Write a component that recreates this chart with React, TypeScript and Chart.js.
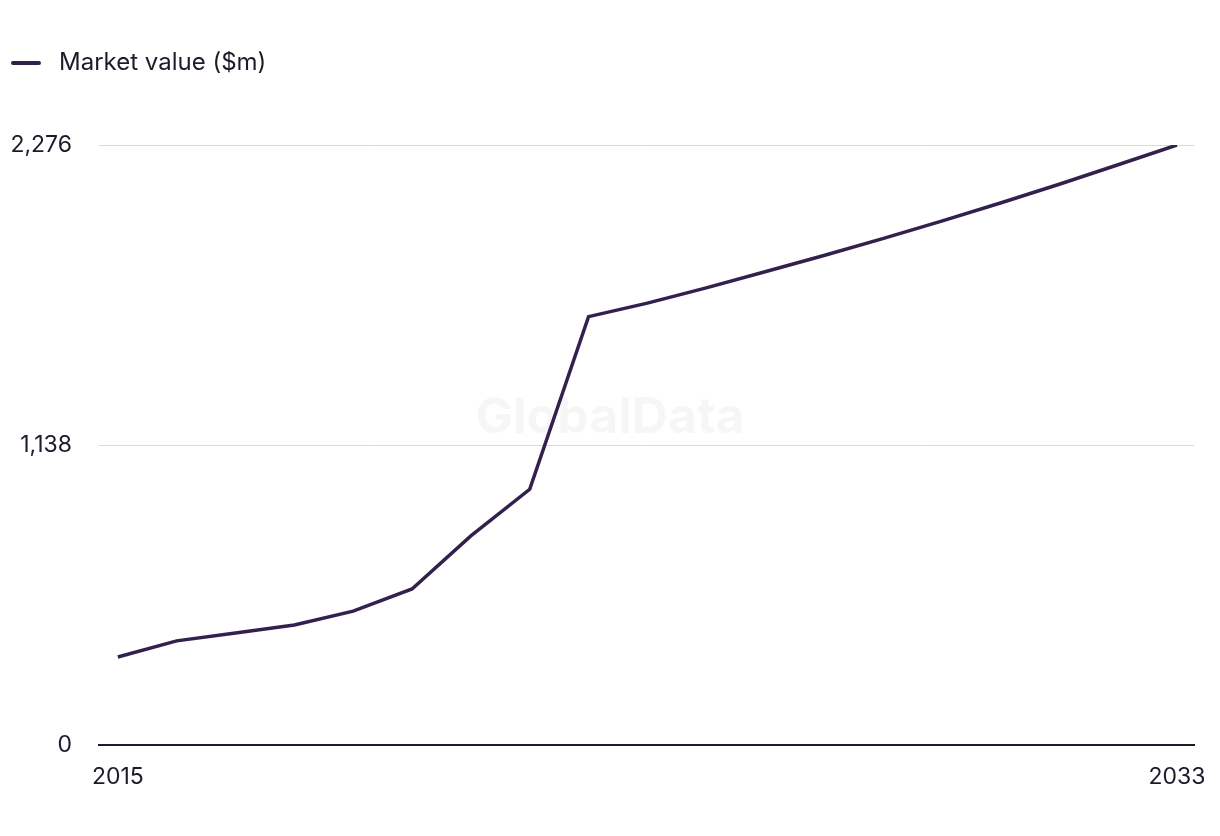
import React, { useEffect, useRef } from "react";
import { Chart, registerables } from "chart.js";

Chart.register(...registerables);

const years = [2015, 2016, 2017, 2018, 2019, 2020, 2021, 2022, 2023, 2024, 2025, 2026, 2027, 2028, 2029, 2030, 2031, 2032, 2033];
const marketValue = [334, 395, 425, 455, 508, 592, 793, 970, 1625, 1676, 1734, 1795, 1857, 1921, 1987, 2056, 2127, 2201, 2276];
const yTicks = [0, 1138, 2276];
const xTicks = [2015, 2033];
const seriesLabel = "Market value ($m)";

const FONT = "Inter, 'Noto Sans', sans-serif";
const TEXT = "#1b1b2b";
const LINE = "#33214d";
const W = 1204;
const H = 820;

export default function App() {
  const ref = useRef<HTMLCanvasElement | null>(null);
  useEffect(() => {
    if (!ref.current) return;
    const swatch = document.createElement("canvas");
    swatch.width = 36;
    swatch.height = 8;
    const sctx = swatch.getContext("2d")!;
    sctx.strokeStyle = LINE;
    sctx.lineWidth = 4;
    sctx.lineCap = "round";
    sctx.beginPath();
    sctx.moveTo(2, 4);
    sctx.lineTo(28, 4);
    sctx.stroke();

    const watermark = {
      id: "watermark",
      beforeDatasetsDraw(chart: any) {
        const ctx = chart.ctx;
        ctx.save();
        ctx.font = `bold 50px ${FONT}`;
        ctx.fillStyle = "rgba(0,0,0,0.035)";
        ctx.textAlign = "center";
        ctx.textBaseline = "middle";
        ctx.fillText("GlobalData", chart.width / 2, 410);
        ctx.restore();
      },
    };
    const legendSpace = {
      id: "legendSpace",
      beforeInit(chart: any) {
        const orig = chart.legend.fit;
        chart.legend.fit = function () {
          orig.call(this);
          this.height = 94;
        };
      },
    };
    const chart = new Chart(ref.current, {
      type: "line",
      data: {
        datasets: [
          {
            label: seriesLabel,
            data: years.map((y, i) => ({ x: y, y: marketValue[i] })),
            borderColor: LINE,
            backgroundColor: LINE,
            borderWidth: 3.5,
            pointRadius: 0,
            tension: 0,
          },
        ],
      },
      plugins: [watermark, legendSpace],
      options: {
        animation: false,
        responsive: false,
        layout: { padding: { top: 43, left: 3, right: 18, bottom: 37 } },
        plugins: {
          tooltip: { enabled: false },
          legend: {
            display: true,
            position: "top",
            align: "start",
            labels: {
              usePointStyle: true,
              pointStyle: swatch as any,
              pointStyleWidth: 36,
              boxWidth: 36,
              boxHeight: 8,
              padding: 0,
              color: TEXT,
              font: { family: FONT, size: 24 },
            },
          },
        },
        scales: {
          x: {
            type: "linear",
            min: 2014.68,
            max: 2033.29,
            afterBuildTicks(scale: any) {
              scale.ticks = xTicks.map((v) => ({ value: v }));
            },
            afterFit(scale: any) {
              scale.height = 46;
              scale.paddingLeft = 0;
              scale.paddingRight = 0;
            },
            grid: { display: false, drawTicks: false },
            border: { display: true, color: TEXT, width: 2 },
            ticks: {
              color: TEXT,
              font: { family: FONT, size: 23 },
              padding: 18,
              maxRotation: 0,
              autoSkip: false,
              callback: (v: any) => String(v),
            },
          },
          y: {
            min: 0,
            max: 2276,
            afterBuildTicks(scale: any) {
              scale.ticks = yTicks.map((v) => ({ value: v }));
            },
            afterFit(scale: any) {
              scale.width = 88;
            },
            grid: { color: "#d9d9d9", lineWidth: 1, drawTicks: false },
            border: { display: false },
            ticks: {
              color: TEXT,
              font: { family: FONT, size: 23 },
              padding: 27,
              callback: (v: any) => Number(v).toLocaleString("en-US"),
            },
          },
        },
      },
    });
    return () => chart.destroy();
  }, []);
  return (
    <div style={{ width: W, height: H }}>
      <canvas ref={ref} width={W} height={H} style={{ display: "block" }} />
    </div>
  );
}
